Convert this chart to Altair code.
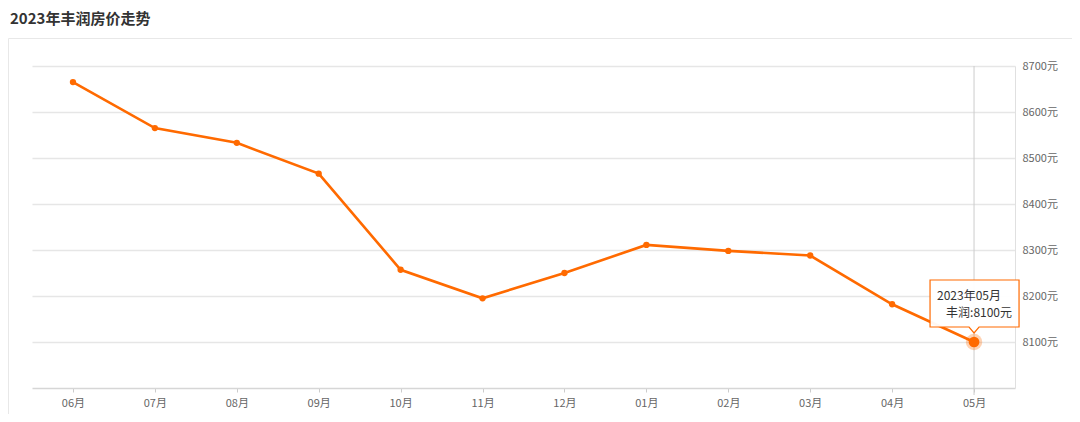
import altair as alt
import pandas as pd

months = ["06月", "07月", "08月", "09月", "10月", "11月", "12月", "01月", "02月", "03月", "04月", "05月"]
prices = [8665, 8565, 8533, 8466, 8257, 8195, 8250, 8311, 8298, 8288, 8182, 8100]
y_ticks = [8100, 8200, 8300, 8400, 8500, 8600, 8700]
title_text = "2023年丰润房价走势"
tip_title = "2023年05月"
tip_label = "丰润:8100元"

ORANGE = "#ff6a00"
FONT = "Noto Sans CJK SC"

df = pd.DataFrame({"month": months, "price": prices})
last = df.iloc[[-1]].copy()
last["t1"] = tip_title
last["t2"] = tip_label

W, H = 983, 322

x_enc = alt.X("month:N", sort=months, scale=alt.Scale(type="point", padding=0.5),
              axis=alt.Axis(title=None, labelColor="#666", labelFontSize=11, labelFont=FONT,
                            labelPadding=11, labelAlign="center", tickColor="#ccc", tickSize=4,
                            domainColor="#d6d6d6", domainWidth=1.5, grid=False, labelAngle=0))
y_scale = alt.Scale(domain=[8000, 8700], nice=False, zero=False)
y_enc = alt.Y("price:Q", scale=y_scale,
              axis=alt.Axis(title=None, orient="right", values=y_ticks,
                            labelExpr="datum.value + '元'", labelColor="#666", labelFontSize=11,
                            labelFont=FONT, labelPadding=7, ticks=False, domain=True,
                            domainColor="#e0e0e0", gridColor="#e6e6e6", gridWidth=1.3))
xo = alt.X("month:N", sort=months)
yo = alt.Y("price:Q")

base = alt.Chart(df)

line = base.mark_line(color=ORANGE, strokeWidth=2.6).encode(x=x_enc, y=y_enc)
pts = base.mark_circle(color=ORANGE, size=40, opacity=1).encode(x=xo, y=yo)

lb = alt.Chart(last)
cross = lb.mark_rule(color="#cccccc", strokeWidth=1).encode(
    x=xo, y=alt.value(0), y2=alt.value(H + 7))
halo = lb.mark_circle(color=ORANGE, opacity=0.3, size=270).encode(x=xo, y=yo)
hot = lb.mark_circle(color=ORANGE, opacity=1, size=115).encode(x=xo, y=yo)

tip_path = "M -44 -62 L 45 -62 L 45 -15 L 5 -15 L 0 -9 L -5 -15 L -44 -15 Z"
tip_box = lb.mark_point(shape=tip_path, size=4, filled=True, fill="white", stroke=ORANGE,
                        strokeWidth=1.2, opacity=1, fillOpacity=0.95).encode(x=xo, y=yo)
tip1 = lb.mark_text(align="left", baseline="middle", dx=-37, dy=-46, fontSize=12, font=FONT,
                    color="#333").encode(x=xo, y=yo, text="t1:N")
tip2 = lb.mark_text(align="right", baseline="middle", dx=38, dy=-29, fontSize=12, font=FONT,
                    color="#333").encode(x=xo, y=yo, text="t2:N")

tdf = pd.DataFrame({"t": [title_text]})
title = alt.Chart(tdf).mark_text(align="left", baseline="middle", fontSize=15, fontWeight="bold",
                                 font=FONT, color="#333").encode(
    x=alt.value(-22), y=alt.value(-47), text="t:N")
border = alt.Chart(tdf).mark_rect(fill="white", fillOpacity=0, stroke="#e8e8e8", strokeWidth=1).encode(
    x=alt.value(-23.5), x2=alt.value(W + 80), y=alt.value(-27.5), y2=alt.value(H + 60))

chart = alt.layer(border, title, cross, line, pts, halo, hot, tip_box, tip1, tip2).properties(
    width=W, height=H,
    background="white",
    autosize=alt.AutoSizeParams(type="none"),
    padding={"left": 24, "top": 58, "right": 57, "bottom": 26},
).configure_view(strokeWidth=0, stroke="transparent")

chart.save("out.html", embed_options={"renderer": "svg", "actions": False})
